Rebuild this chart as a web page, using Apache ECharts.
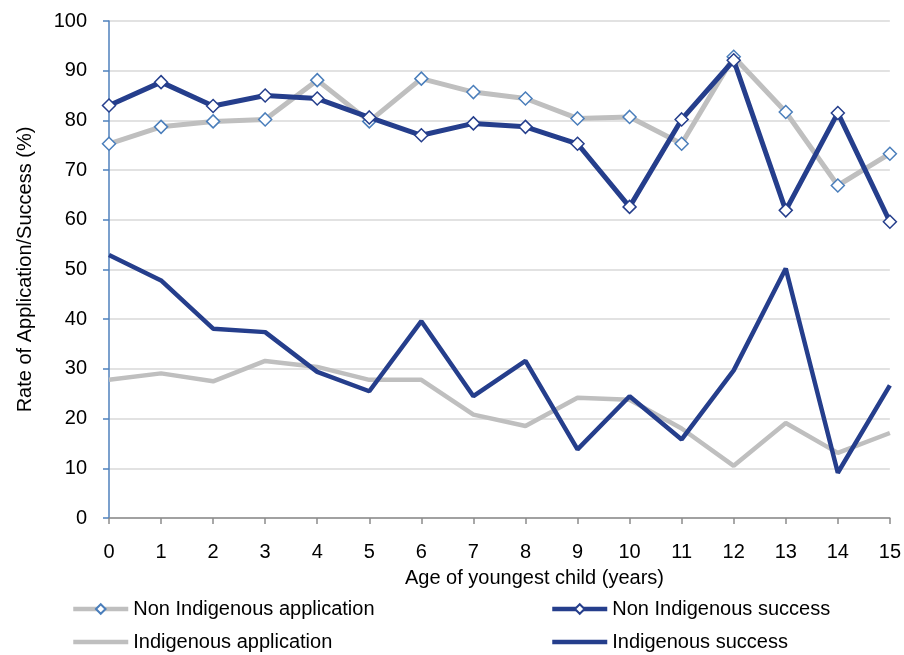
<!DOCTYPE html>
<html>
<head>
<meta charset="utf-8">
<script src="https://cdn.jsdelivr.net/npm/echarts@6/dist/echarts.min.js"></script>
<style>html,body{margin:0;padding:0;background:#fff}#c{width:904px;height:655px}</style>
</head>
<body>
<div id="c"></div>
<script>
const categories = ['0','1','2','3','4','5','6','7','8','9','10','11','12','13','14','15'];
const nonIndigenousApplication = [75.3, 78.7, 79.8, 80.2, 88.1, 79.8, 88.4, 85.7, 84.4, 80.4, 80.7, 75.3, 92.8, 81.7, 66.9, 73.3];
const nonIndigenousSuccess = [83.0, 87.7, 82.9, 85.0, 84.4, 80.6, 77.0, 79.4, 78.7, 75.3, 62.6, 80.2, 92.1, 61.9, 81.5, 59.6];
const indigenousApplication = [27.8, 29.1, 27.5, 31.6, 30.4, 27.8, 27.8, 20.8, 18.5, 24.2, 23.8, 18.0, 10.5, 19.1, 13.1, 17.1];
const indigenousSuccess = [52.9, 47.8, 38.1, 37.4, 29.4, 25.5, 39.6, 24.5, 31.6, 13.8, 24.5, 15.8, 29.7, 50.2, 9.1, 26.7];
const seriesNames = ['Non Indigenous application', 'Non Indigenous success', 'Indigenous application', 'Indigenous success'];
const xAxisTitle = 'Age of youngest child (years)';
const yAxisTitle = 'Rate of Application/Success (%)';

const FONT = "'Liberation Sans', Arial, sans-serif";
const NAVY = '#253E8C';
const GRAY = '#BFBFBF';

const chart = echarts.init(document.getElementById('c'), null, {renderer: 'canvas'});

function legendAt(name, left, top, hideSymbol, color) {
  const item = {name: name};
  if (hideSymbol) item.itemStyle = {opacity: 0, borderWidth: 0};
  return {
    data: [item], left: left, top: top, orient: 'horizontal',
    itemWidth: 55, itemHeight: 12, padding: 0,
    lineStyle: {width: 4.5, color: color},
    textStyle: {fontFamily: FONT, fontSize: 20, color: '#000'}
  };
}

chart.setOption({
  animation: false,
  backgroundColor: '#fff',
  textStyle: {fontFamily: FONT},
  grid: {left: 109, right: 13, top: 21, bottom: 137},
  legend: [
    legendAt(seriesNames[0], 71, 599, false, GRAY),
    legendAt(seriesNames[1], 550, 599, false, NAVY),
    legendAt(seriesNames[2], 71, 632, true, GRAY),
    legendAt(seriesNames[3], 550, 632, true, NAVY)
  ],
  xAxis: {
    type: 'category', data: categories, boundaryGap: false,
    name: xAxisTitle, nameLocation: 'middle', nameGap: 50,
    nameTextStyle: {fontFamily: FONT, fontSize: 20, color: '#000', padding: [0, 0, 0, 70]},
    axisLine: {lineStyle: {color: '#8C8C8C', width: 1.5}},
    axisTick: {show: true, length: 6, lineStyle: {color: '#8C8C8C', width: 1.5}},
    axisLabel: {fontFamily: FONT, fontSize: 20, color: '#000', margin: 24},
    splitLine: {show: false}
  },
  yAxis: {
    type: 'value', min: 0, max: 100, interval: 10,
    name: yAxisTitle, nameLocation: 'middle', nameGap: 74, nameRotate: 90,
    nameTextStyle: {fontFamily: FONT, fontSize: 20, color: '#000'},
    axisLine: {show: true, lineStyle: {color: '#4F81BD', width: 1.5}},
    axisTick: {show: true, length: 6, lineStyle: {color: '#4F81BD', width: 1.5}},
    axisLabel: {fontFamily: FONT, fontSize: 20, color: '#000', margin: 22},
    splitLine: {show: true, lineStyle: {color: '#D9D9D9', width: 1.5}}
  },
  series: [
    {
      name: seriesNames[0], type: 'line', data: nonIndigenousApplication,
      symbol: 'diamond', symbolSize: 13, showSymbol: true,
      lineStyle: {color: GRAY, width: 5},
      itemStyle: {color: '#fff', borderColor: '#4A7EBB', borderWidth: 1.5},
      z: 2
    },
    {
      name: seriesNames[1], type: 'line', data: nonIndigenousSuccess,
      symbol: 'diamond', symbolSize: 13, showSymbol: true,
      lineStyle: {color: NAVY, width: 5},
      itemStyle: {color: '#fff', borderColor: NAVY, borderWidth: 1.5},
      z: 3
    },
    {
      name: seriesNames[2], type: 'line', data: indigenousApplication,
      symbol: 'none', showSymbol: false,
      lineStyle: {color: GRAY, width: 4.5},
      itemStyle: {color: GRAY},
      z: 2
    },
    {
      name: seriesNames[3], type: 'line', data: indigenousSuccess,
      symbol: 'none', showSymbol: false,
      lineStyle: {color: NAVY, width: 4.5},
      itemStyle: {color: NAVY},
      z: 3
    }
  ]
});
</script>
</body>
</html>
